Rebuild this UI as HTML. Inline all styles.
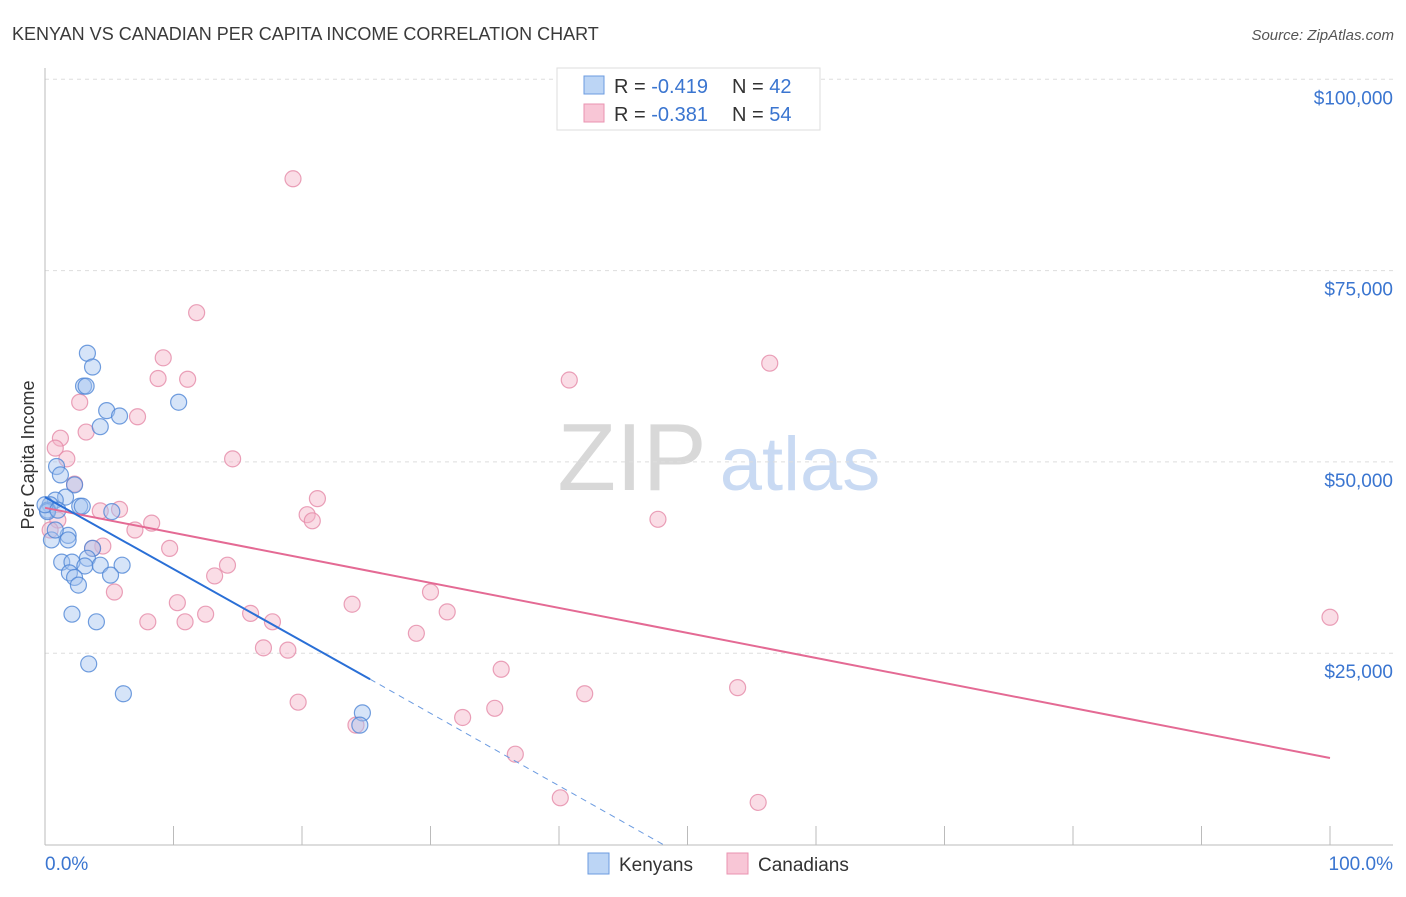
<!DOCTYPE html>
<html><head><meta charset="utf-8"><style>
body{margin:0;background:#fff;font-family:"Liberation Sans",sans-serif}
svg text{font-family:"Liberation Sans",sans-serif}
</style></head><body>
<svg width="1406" height="892" viewBox="0 0 1406 892" xmlns="http://www.w3.org/2000/svg">
<text x="12" y="40" font-size="18" fill="#3a3a3a">KENYAN VS CANADIAN PER CAPITA INCOME CORRELATION CHART</text>
<text x="1394" y="40" font-size="15" fill="#555" font-style="italic" text-anchor="end">Source: ZipAtlas.com</text>
<g>
<text x="632" y="490" font-size="96" fill="#d8d8d8" text-anchor="middle" font-family="Liberation Serif">ZIP</text>
<text x="800" y="490" font-size="76" fill="#c9daf3" text-anchor="middle">atlas</text>
</g>
<g id="grid"></g>
<g id="axes"></g>
<g id="marks"></g>
<text transform="translate(34,455) rotate(-90)" font-size="18" fill="#333" text-anchor="middle">Per Capita Income</text>
<g>
<rect x="557" y="68" width="263" height="62" fill="#fff" stroke="#ddd"/>
<rect x="584" y="76" width="20" height="18" fill="#bcd5f5" stroke="#6b9be0"/>
<rect x="584" y="104" width="20" height="18" fill="#f8c6d6" stroke="#ea93b0"/>
<text x="614" y="93" font-size="20" fill="#333">R = <tspan fill="#3a75d0">-0.419</tspan></text>
<text x="732" y="93" font-size="20" fill="#333">N = <tspan fill="#3a75d0">42</tspan></text>
<text x="614" y="121" font-size="20" fill="#333">R = <tspan fill="#3a75d0">-0.381</tspan></text>
<text x="732" y="121" font-size="20" fill="#333">N = <tspan fill="#3a75d0">54</tspan></text>
</g>
<g>
<rect x="588" y="853" width="21" height="21" fill="#bcd5f5" stroke="#6b9be0"/>
<text x="619" y="871" font-size="19" fill="#333">Kenyans</text>
<rect x="727" y="853" width="21" height="21" fill="#f8c6d6" stroke="#ea93b0"/>
<text x="758" y="871" font-size="19" fill="#333">Canadians</text>
</g>
</svg>
<script>
const yTicks=[25000,50000,75000,100000];
const yTickLabels=["$25,000","$50,000","$75,000","$100,000"];
const xTicks=[0,10,20,30,40,50,60,70,80,90,100];
const kenyanX=[3.3,3.7,3.0,3.2,10.4,4.8,5.8,4.3,0.9,1.2,2.3,1.6,0.8,0.4,0.2,2.7,2.9,5.2,0.5,1.8,1.8,3.7,1.3,2.1,3.3,3.1,4.3,6.0,1.9,2.3,5.1,2.6,2.1,4.0,3.4,6.1,24.7,24.5,0.8,0.2,0.0,1.0];
const kenyanY=[64.2,62.4,59.9,59.9,57.8,56.7,56.0,54.6,49.4,48.3,47.0,45.4,45.0,44.4,43.7,44.2,44.2,43.5,39.8,40.4,39.8,38.7,36.9,36.9,37.4,36.4,36.5,36.5,35.5,34.9,35.2,33.9,30.1,29.1,23.6,19.7,17.2,15.6,41.1,43.5,44.4,43.7];
const canadianX=[19.3,11.8,56.4,9.2,8.8,11.1,40.8,2.7,7.2,3.2,1.2,0.8,1.7,14.6,2.3,21.2,5.8,4.3,8.3,20.4,20.8,47.7,7.0,1.0,4.5,3.7,9.7,14.2,13.2,5.4,30.0,10.3,23.9,31.3,8.0,10.9,12.5,16.0,17.7,28.9,17.0,18.9,35.5,42.0,53.9,19.7,32.5,35.0,24.2,36.6,40.1,55.5,100,0.4];
const canadianY=[87.0,69.5,62.9,63.6,60.9,60.8,60.7,57.8,55.9,53.9,53.1,51.8,50.4,50.4,47.1,45.2,43.8,43.6,42.0,43.1,42.3,42.5,41.1,42.4,39.0,38.7,38.7,36.5,35.1,33.0,33.0,31.6,31.4,30.4,29.1,29.1,30.1,30.2,29.1,27.6,25.7,25.4,22.9,19.7,20.5,18.6,16.6,17.8,15.6,11.8,6.1,5.5,29.7,41.1];
const kenyanTrend=[[0,45.4],[25.3,21.6]];
const kenyanTrendExt=[[25.3,21.6],[48.1,0]];
const canadianTrend=[[0,44.0],[100,11.3]];

const NS="http://www.w3.org/2000/svg";
const X=v=>45+v*12.85;
const Y=k=>844.5-k/25*191.3;
function mk(tag,attrs,parent){const e=document.createElementNS(NS,tag);for(const k in attrs)e.setAttribute(k,attrs[k]);parent.appendChild(e);return e;}
const grid=document.getElementById('grid'),axes=document.getElementById('axes'),marks=document.getElementById('marks');
yTicks.forEach((t,i)=>{
 const y=Y(t/1000);
 const l=mk('line',{x1:45,x2:1393,y1:y,y2:y,stroke:'#ddd','stroke-dasharray':'4,4'},grid);
 
 
 const tx=mk('text',{x:1393,y:y+25,'font-size':19,fill:'#3a75d0','text-anchor':'end'},axes);
 tx.textContent=yTickLabels[i];
 
 
});
const ax=mk('line',{x1:45,x2:45,y1:68,y2:845,stroke:'#bbb'},axes);


const bx=mk('line',{x1:45,x2:1393,y1:845,y2:845,stroke:'#bbb'},axes);


xTicks.forEach(t=>{
 const tk=mk('line',{x1:X(t),x2:X(t),y1:826,y2:845,stroke:'#bbb'},axes);
 
 
});
const xl0=mk('text',{x:45,y:870,'font-size':19,fill:'#3a75d0'},axes);xl0.textContent='0.0%';


const xl1=mk('text',{x:1393,y:870,'font-size':19,fill:'#3a75d0','text-anchor':'end'},axes);xl1.textContent='100.0%';


function pts(xs,ys,fill,stroke,name){xs.forEach((x,i)=>{
 const c=mk('circle',{cx:X(x),cy:Y(ys[i]),r:8,fill:fill,'fill-opacity':0.45,stroke:stroke,'stroke-opacity':0.8,'stroke-width':1.2},marks);
 
 
});}
pts(canadianX,canadianY,'#f5b3c8','#e58aa8','canadian-point');
pts(kenyanX,kenyanY,'#a5c4ef','#4f86d6','kenyan-point');
function ln(p,stroke,w,dash,name){const l=mk('line',{x1:X(p[0][0]),y1:Y(p[0][1]),x2:X(p[1][0]),y2:Y(p[1][1]),stroke:stroke,'stroke-width':w},marks);if(dash)l.setAttribute('stroke-dasharray',dash);
 
 }
ln(canadianTrend,'#e46a94',2,null,'canadian-trendline');
ln(kenyanTrend,'#2a6fd6',2,null,'kenyan-trendline');
ln(kenyanTrendExt,'#6a9ae0',1,'6,5','kenyan-trendline-extension');
</script>
</body></html>
